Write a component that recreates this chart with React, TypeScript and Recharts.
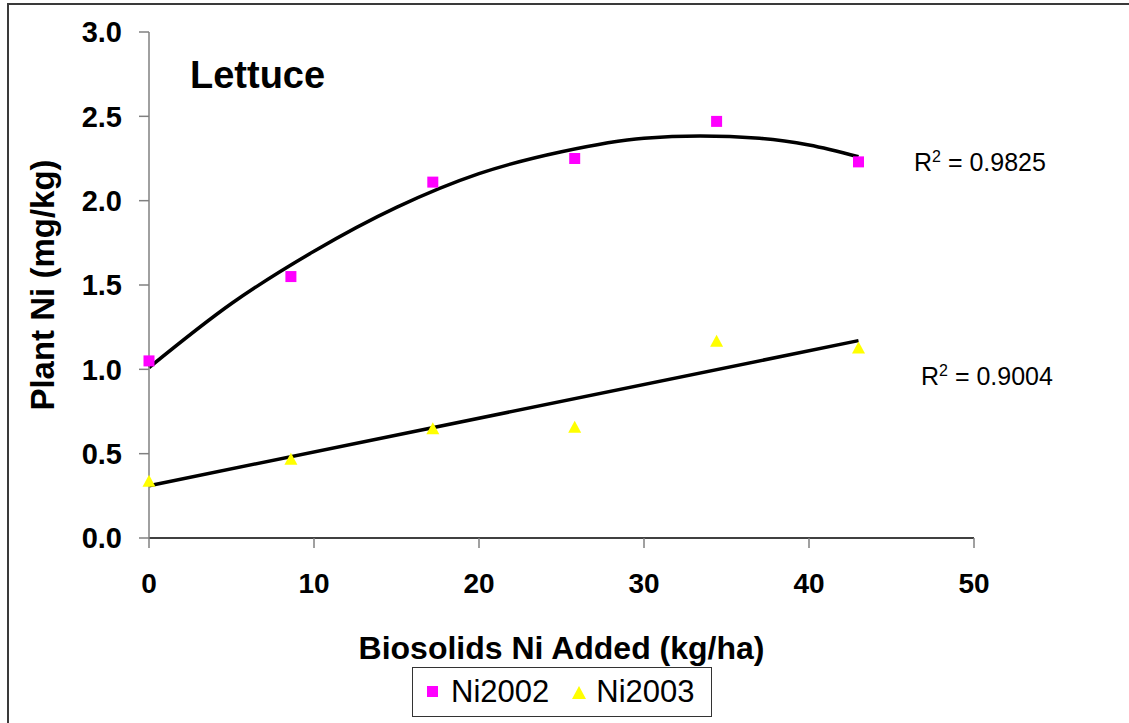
import { ComposedChart, Scatter, Line, XAxis, YAxis, Legend } from 'recharts';

// Biosolids Ni added (kg/ha) at each sampling rate
const niAdded = [0, 8.6, 17.2, 25.8, 34.4, 43.0];
// Measured plant Ni (mg/kg)
const ni2002 = [1.05, 1.55, 2.11, 2.25, 2.47, 2.23];
const ni2003 = [0.34, 0.47, 0.65, 0.66, 1.17, 1.13];

// Fitted trend lines (polynomial for 2002, linear for 2003)
const fit2002X = [0, 5, 10, 15, 20, 25, 30, 33.4, 37, 40, 43];
const fit2002Y = [1.01, 1.39, 1.70, 1.96, 2.16, 2.29, 2.37, 2.383, 2.37, 2.33, 2.26];
const fit2003X = [0, 43];
const fit2003Y = [0.31, 1.17];

const xTicks = [0, 10, 20, 30, 40, 50];
const yTicks = [0, 0.5, 1.0, 1.5, 2.0, 2.5, 3.0];

const points2002 = niAdded.map((x, i) => ({ x, y: ni2002[i] }));
const points2003 = niAdded.map((x, i) => ({ x, y: ni2003[i] }));
const trend2002 = fit2002X.map((x, i) => ({ x, y: fit2002Y[i] }));
const trend2003 = fit2003X.map((x, i) => ({ x, y: fit2003Y[i] }));

const FONT = '"Liberation Sans", Arial, sans-serif';

const Square = (props: any) => {
  const { cx, cy } = props;
  return <rect x={cx - 5.5} y={cy - 5.5} width={11} height={11} fill="#ff00ff" />;
};

const Triangle = (props: any) => {
  const { cx, cy } = props;
  return <polygon points={`${cx},${cy - 6} ${cx + 6.5},${cy + 6} ${cx - 6.5},${cy + 6}`} fill="#ffff00" />;
};

const LegendBox = () => (
  <div
    style={{
      border: '1.5px solid #333',
      background: '#fff',
      width: 300,
      height: 50,
      display: 'flex',
      alignItems: 'center',
      fontFamily: FONT,
      fontSize: 31,
      color: '#000',
      boxSizing: 'border-box',
    }}
  >
    <svg width={12} height={12} style={{ marginLeft: 14 }}>
      <rect x={0} y={0} width={11} height={11} fill="#ff00ff" />
    </svg>
    <span style={{ marginLeft: 12 }}>Ni2002</span>
    <svg width={14} height={13} style={{ marginLeft: 23 }}>
      <polygon points="7,0 14,13 0,13" fill="#ffff00" />
    </svg>
    <span style={{ marginLeft: 10 }}>Ni2003</span>
  </div>
);

export default function App() {
  return (
    <div style={{ position: 'fixed', left: 0, top: 0, width: 1129, height: 723, overflow: 'hidden', background: '#fff' }}>
      <div
        style={{
          position: 'absolute',
          left: 7,
          top: 3,
          width: 1300,
          height: 900,
          borderLeft: '2px solid #3a3a3a',
          borderTop: '2px solid #3a3a3a',
        }}
      />
      <ComposedChart
        width={1129}
        height={723}
        margin={{ top: 32, right: 155, bottom: 145, left: 9 }}
        style={{ position: 'absolute', left: 0, top: 0 }}
      >
        <XAxis
          type="number"
          dataKey="x"
          domain={[0, 50]}
          ticks={xTicks}
          height={40}
          axisLine={{ stroke: '#000', strokeWidth: 1.5 }}
          tickLine={{ stroke: '#808080', strokeWidth: 1.5 }}
          tickSize={10}
          tickMargin={25}
          tick={{ fill: '#000', fontSize: 28, fontWeight: 'bold', fontFamily: FONT }}
          label={{
            value: 'Biosolids Ni Added (kg/ha)',
            position: 'center',
            dy: 90,
            fill: '#000',
            fontSize: 32,
            fontWeight: 'bold',
            fontFamily: FONT,
          }}
        />
        <YAxis
          type="number"
          dataKey="y"
          domain={[0, 3]}
          ticks={yTicks}
          width={140}
          axisLine={{ stroke: '#808080', strokeWidth: 1.5 }}
          tickLine={{ stroke: '#808080', strokeWidth: 1.5 }}
          tickSize={10}
          tickMargin={17}
          tickFormatter={(v: number) => v.toFixed(1)}
          tick={{ fill: '#000', fontSize: 29, fontWeight: 'bold', fontFamily: FONT }}
          label={{
            value: 'Plant Ni (mg/kg)',
            angle: -90,
            position: 'center',
            dx: -37,
            fill: '#000',
            fontSize: 33,
            fontWeight: 'bold',
            fontFamily: FONT,
          }}
        />
        <Legend
          layout="horizontal"
          verticalAlign="middle"
          align="center"
          wrapperStyle={{ left: 412, top: 667, width: 302, height: 52 }}
          content={() => <LegendBox />}
        />
        <Scatter name="Ni2002" data={points2002} shape={Square} isAnimationActive={false} />
        <Scatter name="Ni2003" data={points2003} shape={Triangle} isAnimationActive={false} />
        <Line
          data={trend2002}
          dataKey="y"
          type="monotone"
          stroke="#000"
          strokeWidth={3.5}
          dot={false}
          activeDot={false}
          legendType="none"
          isAnimationActive={false}
        />
        <Line
          data={trend2003}
          dataKey="y"
          type="linear"
          stroke="#000"
          strokeWidth={3.5}
          dot={false}
          activeDot={false}
          legendType="none"
          isAnimationActive={false}
        />
      </ComposedChart>
      <div
        style={{
          position: 'absolute',
          left: 190,
          top: 54,
          fontFamily: FONT,
          fontSize: 38,
          fontWeight: 'bold',
          color: '#000',
        }}
      >
        Lettuce
      </div>
      <div style={{ position: 'absolute', left: 914, top: 148, fontFamily: FONT, fontSize: 25, color: '#000' }}>
        R<sup style={{ fontSize: 16 }}>2</sup> = 0.9825
      </div>
      <div style={{ position: 'absolute', left: 921, top: 362, fontFamily: FONT, fontSize: 25, color: '#000' }}>
        R<sup style={{ fontSize: 16 }}>2</sup> = 0.9004
      </div>
    </div>
  );
}
